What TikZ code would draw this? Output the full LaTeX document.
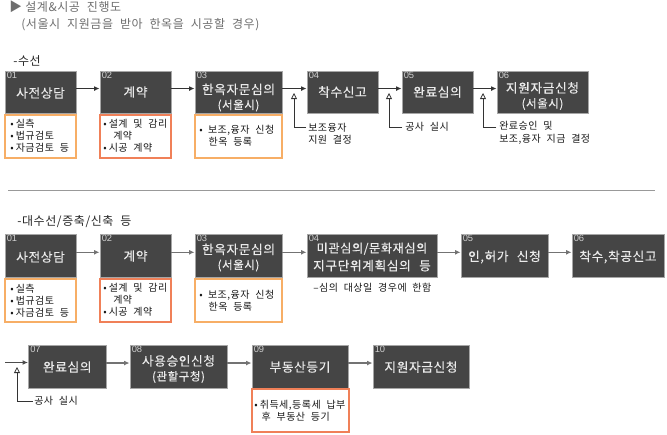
\documentclass[tikz,border=0pt]{standalone}
\usepackage{fontspec}
\setmainfont[WordSpace=2.1,LetterSpace=5]{Noto Sans CJK KR}
\newfontfamily\boxfont[WordSpace=2.4,LetterSpace=5,FakeBold=0.25]{Noto Sans CJK KR}
\newfontfamily\numfont{Liberation Sans}
\usetikzlibrary{arrows.meta}
\definecolor{boxfill}{HTML}{454545}
\definecolor{boxedge}{HTML}{A6A6A6}
\definecolor{numgray}{HTML}{D0D0D0}
\definecolor{headgray}{HTML}{6E6E6E}
\definecolor{softorange}{HTML}{F7AE66}
\definecolor{redorange}{HTML}{F08058}
\tikzset{
  x=0.75pt,y=-0.75pt,
  darkbox/.style={draw=boxedge,fill=boxfill,line width=0.7pt,inner sep=0pt},
  boxnum/.style={text=numgray,font=\numfont\fontsize{7pt}{8pt}\selectfont,anchor=north west,inner sep=0pt},
  boxtext/.style={text=white!92!black,font=\boxfont\fontsize{9.5pt}{11.2pt}\selectfont,align=center,inner sep=0pt},
  notebox/.style={draw=#1,fill=white,line width=0.9pt,inner sep=0pt},
  notetext/.style={text=black!90,font=\fontsize{7.5pt}{9pt}\selectfont,align=left,anchor=west,inner sep=0pt},
  sidetext/.style={text=black!90,font=\fontsize{7.5pt}{9.3pt}\selectfont,align=left,anchor=west,inner sep=0pt},
  conn/.style={draw=black!80,line width=0.7pt,-{Latex[length=4pt,width=3.6pt]}},
  connlight/.style={draw=black!55,line width=0.9pt,-{Latex[length=4pt,width=3.6pt]}},
  pickup/.style={draw=black!80,line width=0.6pt,-{Triangle[open,length=4.5pt,width=4.5pt]}},
  headtext/.style={text=headgray,font=\fontsize{9pt}{10pt}\selectfont,anchor=west,inner sep=0pt},
  sectext/.style={text=black!85,font=\fontsize{9pt}{10pt}\selectfont,anchor=west,inner sep=0pt},
}
% name, x1, y1, x2, y2, number, text y, text
\newcommand{\dkbox}[8]{%
  \pgfmathsetlengthmacro{\bw}{(#4-#2)*0.75pt}%
  \pgfmathsetlengthmacro{\bh}{(#5-#3)*0.75pt}%
  \node[darkbox,minimum width=\bw,minimum height=\bh] (#1) at ({(#2+#4)/2},{(#3+#5)/2}) {};
  \node[boxnum] (#1-n) at (#2+1.5,#3+1) {#6};
  \node[boxtext] (#1-t) at ({(#2+#4)/2},#7) {#8};
}
% name, x1, y1, x2, y2, colour
\newcommand{\ntbox}[6]{%
  \pgfmathsetlengthmacro{\bw}{(#4-#2)*0.75pt}%
  \pgfmathsetlengthmacro{\bh}{(#5-#3)*0.75pt}%
  \node[notebox=#6,minimum width=\bw,minimum height=\bh] (#1) at ({(#2+#4)/2},{(#3+#5)/2}) {};
}
\newcommand{\subl}[1]{{\fontsize{8.6pt}{11.2pt}\selectfont #1}}
\newcommand{\bl}{•\hspace{1.6pt}}
\begin{document}
\begin{tikzpicture}
\useasboundingbox (0,0) rectangle (667,435);

% header
\node[text=headgray,font=\fontsize{9.5pt}{10pt}\selectfont,anchor=west,inner sep=0pt] (tri) at (9,7) {▶};
\node[headtext] (head1) at (25,7) {설계\&시공 진행도};
\node[headtext] (head2) at (21,25) {(서울시 지원금을 받아 한옥을 시공할 경우)};
\node[sectext,text=black!85] (sec1) at (13,61) {-수선};
\node[sectext] (sec2) at (17,222) {-대수선/증축/신축 등};

% separator
\coordinate (sepL) at (8,190);
\coordinate (sepR) at (655,190);
\draw[black!40,line width=0.6pt] (sepL) -- (sepR);

% row 1
\dkbox{a1}{5}{71}{76}{113}{01}{93}{사전상담}
\dkbox{a2}{100}{71}{171}{113}{02}{92}{계약}
\dkbox{a3}{195}{71}{282}{113}{03}{97.5}{한옥자문심의\\\subl{(서울시)}}
\dkbox{a4}{307}{71}{378}{113}{04}{92}{착수신고}
\dkbox{a5}{402}{71}{473}{113}{05}{92}{완료심의}
\dkbox{a6}{497}{71}{588}{113}{06}{96}{지원자금신청\\\subl{(서울시)}}
\foreach \p/\q in {a1/a2,a2/a3,a3/a4,a4/a5,a5/a6}
  \draw[conn] ([yshift=2.6pt]\p.east) -- ([yshift=2.6pt]\q.west);

\ntbox{na1}{5}{115}{76}{158}{softorange}
\ntbox{na2}{100}{115}{171}{158}{redorange}
\ntbox{na3}{195}{115}{282}{158}{softorange}
\node[notetext] (na1t) at (10,136) {\bl 실측\\\bl 법규검토\\\bl 자금검토 등};
\node[notetext] (na2t) at (103,136) {\bl 설계 및 감리\\\hspace{7.5pt}계약\\\bl 시공 계약};
\node[notetext] (na3t) at (199,136) {•\hspace{4pt}보조,융자 신청\\\hspace{7pt}한옥 등록};

\node[sidetext] (sa1) at (308,133.5) {보조융자\\지원 결정};
\node[sidetext] (sa2) at (405,127) {공사 실시};
\node[sidetext] (sa3) at (499,133) {완료승인 및\\보조,융자 지금 결정};
\coordinate (ta1) at (294,93);
\coordinate (ta2) at (389,93);
\coordinate (ta3) at (483,93);
\draw[pickup] ([yshift=4.8pt,xshift=-1.5pt]sa1.west) -| (ta1);
\draw[pickup] ([xshift=-2pt]sa2.west) -| (ta2);
\draw[pickup] ([yshift=4.5pt,xshift=-2pt]sa3.west) -| (ta3);

% row 2
\dkbox{b1}{5}{234}{76}{277}{01}{257}{사전상담}
\dkbox{b2}{100}{234}{171}{277}{02}{256}{계약}
\dkbox{b3}{195}{234}{282}{277}{03}{257.5}{한옥자문심의\\\subl{(서울시)}}
\dkbox{b4}{307}{234}{437}{277}{04}{257}{\fontsize{9.1pt}{11.2pt}\selectfont 미관심의/문화재심의\\[2.2pt]지구단위계획심의 등}
\dkbox{b5}{461}{234}{548}{277}{05}{257}{인,허가 신청}
\dkbox{b6}{572}{234}{664}{277}{06}{257}{착수,착공신고}
\foreach \p/\q in {b1/b2,b2/b3,b3/b4,b4/b5,b5/b6}
  \draw[connlight] ([yshift=2.4pt]\p.east) -- ([yshift=2.4pt]\q.west);

\ntbox{nb1}{5}{279}{76}{322}{softorange}
\ntbox{nb2}{100}{279}{171}{322}{redorange}
\ntbox{nb3}{195}{279}{282}{322}{softorange}
\node[notetext] (nb1t) at (10,300.5) {\bl 실측\\\bl 법규검토\\\bl 자금검토 등};
\node[notetext] (nb2t) at (103,300) {\bl 설계 및 감리\\\hspace{7.5pt}계약\\\bl 시공 계약};
\node[notetext] (nb3t) at (199,301) {•\hspace{4pt}보조,융자 신청\\\hspace{7pt}한옥 등록};
\node[sidetext] (sb1) at (313,288) {--심의 대상일 경우에 한함};

% row 3
\dkbox{c7}{28.5}{345}{106}{388}{07}{367}{완료심의}
\dkbox{c8}{130}{345}{227}{388}{08}{369}{사용승인신청\\\subl{(관할구청)}}
\dkbox{c9}{252}{345}{348}{388}{09}{367}{부동산등기}
\dkbox{c10}{373}{345}{469}{388}{10}{367}{지원자금신청}
\coordinate (start) at (5,362.5);
\draw[connlight,draw=black!70] (start) -- (start -| c7.west);
\foreach \p/\q in {c7/c8,c8/c9,c9/c10}
  \draw[connlight] ([yshift=2.6pt]\p.east) -- ([yshift=2.6pt]\q.west);
\node[sidetext] (sc) at (34,401) {공사 실시};
\coordinate (tc) at (17,367);
\draw[pickup] ([xshift=-1pt]sc.west) -| (tc);
\ntbox{nc9}{252}{389}{349}{432}{redorange}
\node[notetext] (nc9t) at (254,410.5) {\bl 취득세,등록세 납부\\\hspace{5.5pt}후 부동산 등기};
\end{tikzpicture}
\end{document}
